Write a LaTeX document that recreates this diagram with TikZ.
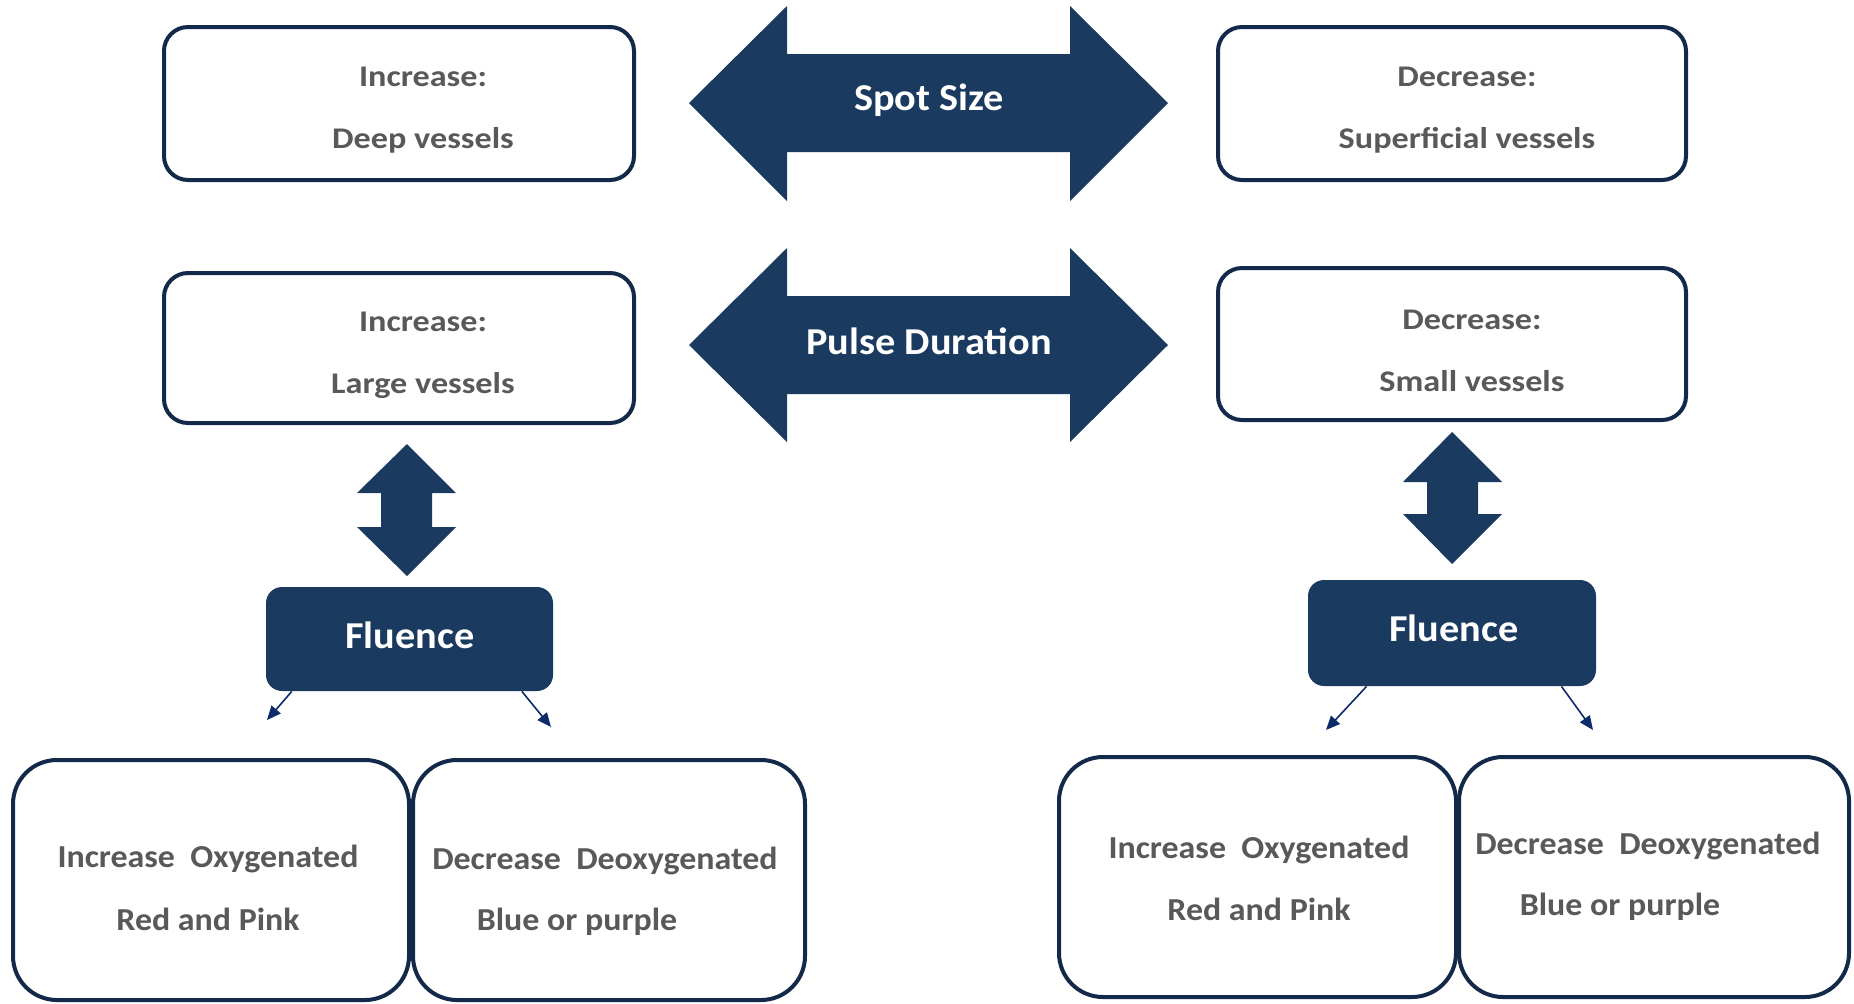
\documentclass[tikz,border=0pt]{standalone}
\usepackage{fontspec}
\setmainfont{Carlito}[FakeStretch=1.06]
\newfontfamily\widefont{Carlito}[FakeStretch=1.14]
\usetikzlibrary{arrows.meta}
\definecolor{navy}{HTML}{1B3A5F}
\definecolor{rim}{HTML}{13294A}
\definecolor{ink}{HTML}{595959}
\definecolor{tip}{HTML}{0D2A6A}
\begin{document}
\begin{tikzpicture}[x=0.5pt, y=-0.5pt,
    box/.style={draw=rim, line width=2pt, rounded corners=12pt, fill=white},
    cell/.style={draw=rim, line width=2pt, rounded corners=22pt, fill=white},
    txt/.style={text=ink, font=\widefont\fontsize{15}{31}\selectfont\bfseries, align=center},
    ctxt/.style={text=ink, font=\fontsize{16}{20}\selectfont\bfseries},
    big/.style={text=white, font=\fontsize{19}{22}\selectfont\bfseries},
    flu/.style={fill=navy, rounded corners=8pt, text=white,
                font=\fontsize{19}{22}\selectfont\bfseries},
    lead/.style={-{Triangle[length=7pt,width=6pt]}, draw=tip, line width=0.8pt}]
  \useasboundingbox (0,0) rectangle (1854,1003);

  % --- Ust kutular ---
  \node[box, minimum width=235pt, minimum height=76.5pt] (deep) at (399,103.5) {};
  \node[box, minimum width=234pt, minimum height=76.5pt] (sup) at (1452,103.5) {};
  \node[box, minimum width=235pt, minimum height=75pt] (large) at (399,348) {};
  \node[box, minimum width=234pt, minimum height=76pt] (small) at (1452,344) {};
  \node[txt] (deepT) at (423,110) {Increase:\\Deep vessels};
  \node[txt] (supT) at (1467,110) {Decrease:\\Superficial vessels};
  \node[txt] (largeT) at (423,355) {Increase:\\Large vessels};
  \node[txt] (smallT) at (1472,351) {Decrease:\\Small vessels};

  % --- Yatay cift oklar ---
  \fill[navy] (689,103) -- (787,6) -- (787,54) -- (1070,54) -- (1070,6) -- (1168,103)
    -- (1070,201) -- (1070,152) -- (787,152) -- (787,201) -- cycle;
  \node[big] (spot) at (929,100) {Spot Size};
  \fill[navy] (689,345) -- (787,248) -- (787,296) -- (1070,296) -- (1070,248) -- (1168,345)
    -- (1070,442) -- (1070,394) -- (787,394) -- (787,442) -- cycle;
  \node[big] (pulse) at (929,341) {Pulse Duration};

  % --- Dikey cift oklar ---
  \fill[navy] (407,444) -- (456,493) -- (432,493) -- (432,527) -- (456,527) -- (407,576)
    -- (357,527) -- (381,527) -- (381,493) -- (357,493) -- cycle;
  \fill[navy] (1452,432) -- (1502,482) -- (1478,482) -- (1478,514) -- (1502,514) -- (1452,564)
    -- (1403,514) -- (1427,514) -- (1427,482) -- (1403,482) -- cycle;

  % --- Fluence ---
  \node[flu, minimum width=143.5pt, minimum height=52pt] (fluL) at (409.5,639) {};
  \node[flu, minimum width=144pt, minimum height=53pt] (fluR) at (1452,633) {};
  \node[big] (fluLT) at (410,635) {Fluence};
  \node[big] (fluRT) at (1454,628) {Fluence};
  \coordinate (aL1) at (267,720); \coordinate (aL2) at (551,727);
  \coordinate (aR1) at (1326,730); \coordinate (aR2) at (1593,730);
  \draw[lead] (fluL.204) -- (aL1);
  \draw[lead] (fluL.335) -- (aL2);
  \draw[lead] (fluR.212) -- (aR1);
  \draw[lead] (fluR.334) -- (aR2);

  % --- Alt kutular ---
  \node[cell, minimum width=198pt, minimum height=120pt] (oxyL) at (211,880) {};
  \node[cell, minimum width=196pt, minimum height=120pt] (deoL) at (609,880) {};
  \node[cell, minimum width=198.5pt, minimum height=120pt] (oxyR) at (1257.5,877) {};
  \node[cell, minimum width=195pt, minimum height=120pt] (deoR) at (1654,877) {};
  \node[ctxt] (oxyL1) at (208,859) {Increase\ \ Oxygenated};
  \node[ctxt] (oxyL2) at (208,919) {Red and Pink};
  \node[ctxt] (deoL1) at (605,861) {Decrease\ \ Deoxygenated};
  \node[ctxt] (deoL2) at (577,922) {Blue or purple};
  \node[ctxt] (oxyR1) at (1259,850) {Increase\ \ Oxygenated};
  \node[ctxt] (oxyR2) at (1259,909) {Red and Pink};
  \node[ctxt] (deoR1) at (1648,846) {Decrease\ \ Deoxygenated};
  \node[ctxt] (deoR2) at (1620,907) {Blue or purple};
\end{tikzpicture}
\end{document}
